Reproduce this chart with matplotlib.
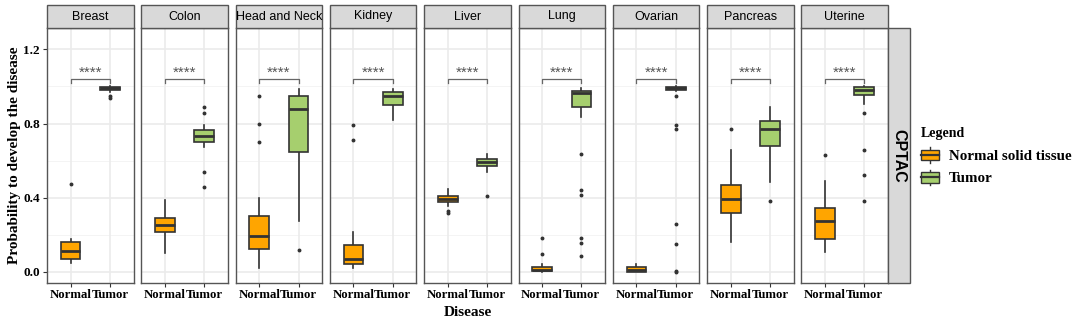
import matplotlib
matplotlib.use("Agg")
import matplotlib.pyplot as plt
from matplotlib.patches import Rectangle, Patch
from matplotlib.legend_handler import HandlerBase
from matplotlib.lines import Line2D

diseases = ["Breast", "Colon", "Head and Neck", "Kidney", "Liver",
            "Lung", "Ovarian", "Pancreas", "Uterine"]
groups = ["Normal", "Tumor"]
legend_labels = ["Normal solid tissue", "Tumor"]

# Normal solid tissue box statistics
normal_whislo = [0.047, 0.100, 0.023, 0.020, 0.355, 0.000, 0.000, 0.163, 0.106]
normal_q1     = [0.068, 0.214, 0.126, 0.045, 0.377, 0.004, 0.002, 0.316, 0.176]
normal_med    = [0.115, 0.253, 0.196, 0.068, 0.393, 0.012, 0.009, 0.393, 0.276]
normal_q3     = [0.162, 0.289, 0.302, 0.144, 0.411, 0.025, 0.027, 0.467, 0.343]
normal_whishi = [0.176, 0.388, 0.397, 0.217, 0.449, 0.040, 0.045, 0.656, 0.490]
normal_fliers = [[0.472], [], [0.950, 0.800, 0.699], [0.790, 0.711],
                 [0.330, 0.320], [0.185, 0.099], [], [0.772], [0.632]]

# Tumor box statistics
tumor_whislo = [0.970, 0.675, 0.276, 0.819, 0.537, 0.833, 0.975, 0.487, 0.904]
tumor_q1     = [0.980, 0.702, 0.645, 0.900, 0.573, 0.889, 0.982, 0.679, 0.955]
tumor_med    = [0.990, 0.733, 0.880, 0.950, 0.593, 0.964, 0.990, 0.769, 0.980]
tumor_q3     = [0.995, 0.763, 0.948, 0.968, 0.610, 0.974, 0.997, 0.815, 0.998]
tumor_whishi = [1.000, 0.790, 0.986, 0.986, 0.636, 0.993, 1.000, 0.891, 1.000]
tumor_fliers = [[0.950, 0.940], [0.887, 0.855, 0.537, 0.456], [0.117], [],
                [0.411], [0.637, 0.440, 0.415, 0.181, 0.158, 0.085],
                [0.950, 0.790, 0.770, 0.260, 0.149, 0.007, 0.000], [0.383],
                [0.858, 0.657, 0.524, 0.383]]

sig_label = "****"
y_ticks = [0.0, 0.4, 0.8, 1.2]
facet_row = "CPTAC"

fill_colors = ["#FFA500", "#A6CF6E"]
edge_color = "#333333"
serif = ["Liberation Serif", "DejaVu Serif"]
sans = ["Liberation Sans", "DejaVu Sans"]

W, H = 1080, 327
fig = plt.figure(figsize=(W / 100, H / 100), dpi=100)


def fx(px):
    return px / W


def fy(py):
    return 1 - py / H


class BoxKeyHandler(HandlerBase):
    """Legend key drawn as a small boxplot glyph."""

    def create_artists(self, legend, orig_handle, xdescent, ydescent,
                       width, height, fontsize, trans):
        cx = width / 2 - xdescent
        bw = width * 0.9
        bh = height * 0.68
        by = -ydescent + (height - bh) / 2
        art = [
            Line2D([cx, cx], [-ydescent, height - ydescent],
                   color=edge_color, lw=1.0, transform=trans),
            Rectangle((cx - bw / 2, by), bw, bh,
                      facecolor=orig_handle.get_facecolor(),
                      edgecolor=edge_color, lw=1.0, transform=trans),
            Line2D([cx - bw / 2, cx + bw / 2],
                   [by + bh / 2, by + bh / 2], color=edge_color, lw=1.6,
                   transform=trans),
        ]
        return art


left0, pw, step = 47.0, 86.5, 94.3
top, bottom, strip_top = 28.0, 283.0, 5.0
ylo, yhi = -0.06, 1.315

for i, name in enumerate(diseases):
    x0 = left0 + i * step
    ax = fig.add_axes([fx(x0), fy(bottom), pw / W, (bottom - top) / H])
    ax.set_xlim(0.4, 2.6)
    ax.set_ylim(ylo, yhi)
    ax.set_facecolor("white")

    # grid lines
    for v in [0.2, 0.6, 1.0]:
        ax.axhline(v, color="#F2F2F2", lw=0.6, zorder=0)
    for v in y_ticks:
        ax.axhline(v, color="#EBEBEB", lw=1.2, zorder=0)
    for v in [1, 2]:
        ax.axvline(v, color="#EBEBEB", lw=1.2, zorder=0)

    stats = []
    for lo, q1, med, q3, hi, fl in [
        (normal_whislo[i], normal_q1[i], normal_med[i], normal_q3[i],
         normal_whishi[i], normal_fliers[i]),
        (tumor_whislo[i], tumor_q1[i], tumor_med[i], tumor_q3[i],
         tumor_whishi[i], tumor_fliers[i]),
    ]:
        stats.append(dict(whislo=lo, q1=q1, med=med, q3=q3, whishi=hi,
                          fliers=fl))
    bp = ax.bxp(stats, positions=[1, 2], widths=0.5, patch_artist=True,
                showcaps=False,
                boxprops=dict(edgecolor=edge_color, linewidth=1.2),
                medianprops=dict(color=edge_color, linewidth=2.0),
                whiskerprops=dict(color=edge_color, linewidth=1.2),
                flierprops=dict(marker="o", markersize=1.8,
                                markerfacecolor=edge_color,
                                markeredgecolor=edge_color))
    for patch, c in zip(bp["boxes"], fill_colors):
        patch.set_facecolor(c)
        patch.set_zorder(3)
    for med in bp["medians"]:
        med.set_zorder(4)
        med.set_solid_capstyle("butt")

    # significance bracket
    ax.plot([1, 1, 2, 2], [1.017, 1.042, 1.042, 1.017], color="#666666",
            lw=0.9, zorder=4)
    ax.text(1.5, 1.072, sig_label, ha="center", va="center", fontsize=11,
            color="#555555", family=sans)

    ax.set_xticks([1, 2])
    ax.set_xticklabels(groups, fontsize=9.2, fontweight="bold", family=serif)
    ax.tick_params(axis="x", length=3, width=0.8, color="#333333", pad=1.5)
    if i == 0:
        ax.set_yticks(y_ticks)
        ax.set_yticklabels([f"{v:.1f}" for v in y_ticks], fontsize=9.5,
                           fontweight="bold", family=serif)
        ax.tick_params(axis="y", length=3, width=0.8, color="#333333", pad=2)
        ax.set_ylabel("Probability to develop the disease", fontsize=11,
                      fontweight="bold", family=serif, labelpad=2)
    else:
        ax.set_yticks(y_ticks)
        ax.tick_params(axis="y", length=0, labelleft=False)
    for sp in ax.spines.values():
        sp.set_color("#555555")
        sp.set_linewidth(1.0)
        sp.set_zorder(5)

    # facet strip
    fig.patches.append(Rectangle((fx(x0), fy(top)), pw / W,
                                 (top - strip_top) / H,
                                 transform=fig.transFigure,
                                 facecolor="#D9D9D9", edgecolor="#555555",
                                 lw=1.0))
    fig.text(fx(x0 + pw / 2), fy((top + strip_top) / 2), name, ha="center",
             va="center", fontsize=9, family=sans)

# row strip on the right
rx0, rx1 = left0 + 8 * step + pw, 910
fig.patches.append(Rectangle((fx(rx0), fy(bottom)), (rx1 - rx0) / W,
                             (bottom - top) / H, transform=fig.transFigure,
                             facecolor="#D9D9D9", edgecolor="#555555", lw=1.0))
fig.text(fx((rx0 + rx1) / 2), fy((top + bottom) / 2), facet_row,
         rotation=-90, ha="center", va="center", fontsize=11.5,
         fontweight="bold", family=sans)

fig.text(fx((left0 + rx0) / 2), fy(313), "Disease", ha="center",
         va="center", fontsize=11, fontweight="bold", family=serif)

# legend
handles = [Patch(facecolor=c, edgecolor=edge_color) for c in fill_colors]
leg = fig.legend(handles, legend_labels, loc="upper left",
                 bbox_to_anchor=(fx(907), fy(114)), frameon=False,
                 title="Legend", handlelength=1.3, handleheight=1.2,
                 handletextpad=0.6, labelspacing=0.45,
                 handler_map={Patch: BoxKeyHandler()},
                 prop=dict(family=serif, weight="bold", size=10.8))
leg.get_title().set_fontproperties(dict(family=serif, weight="bold",
                                        size=10))
leg._legend_box.align = "left"

fig.savefig("out.png", dpi=100)
